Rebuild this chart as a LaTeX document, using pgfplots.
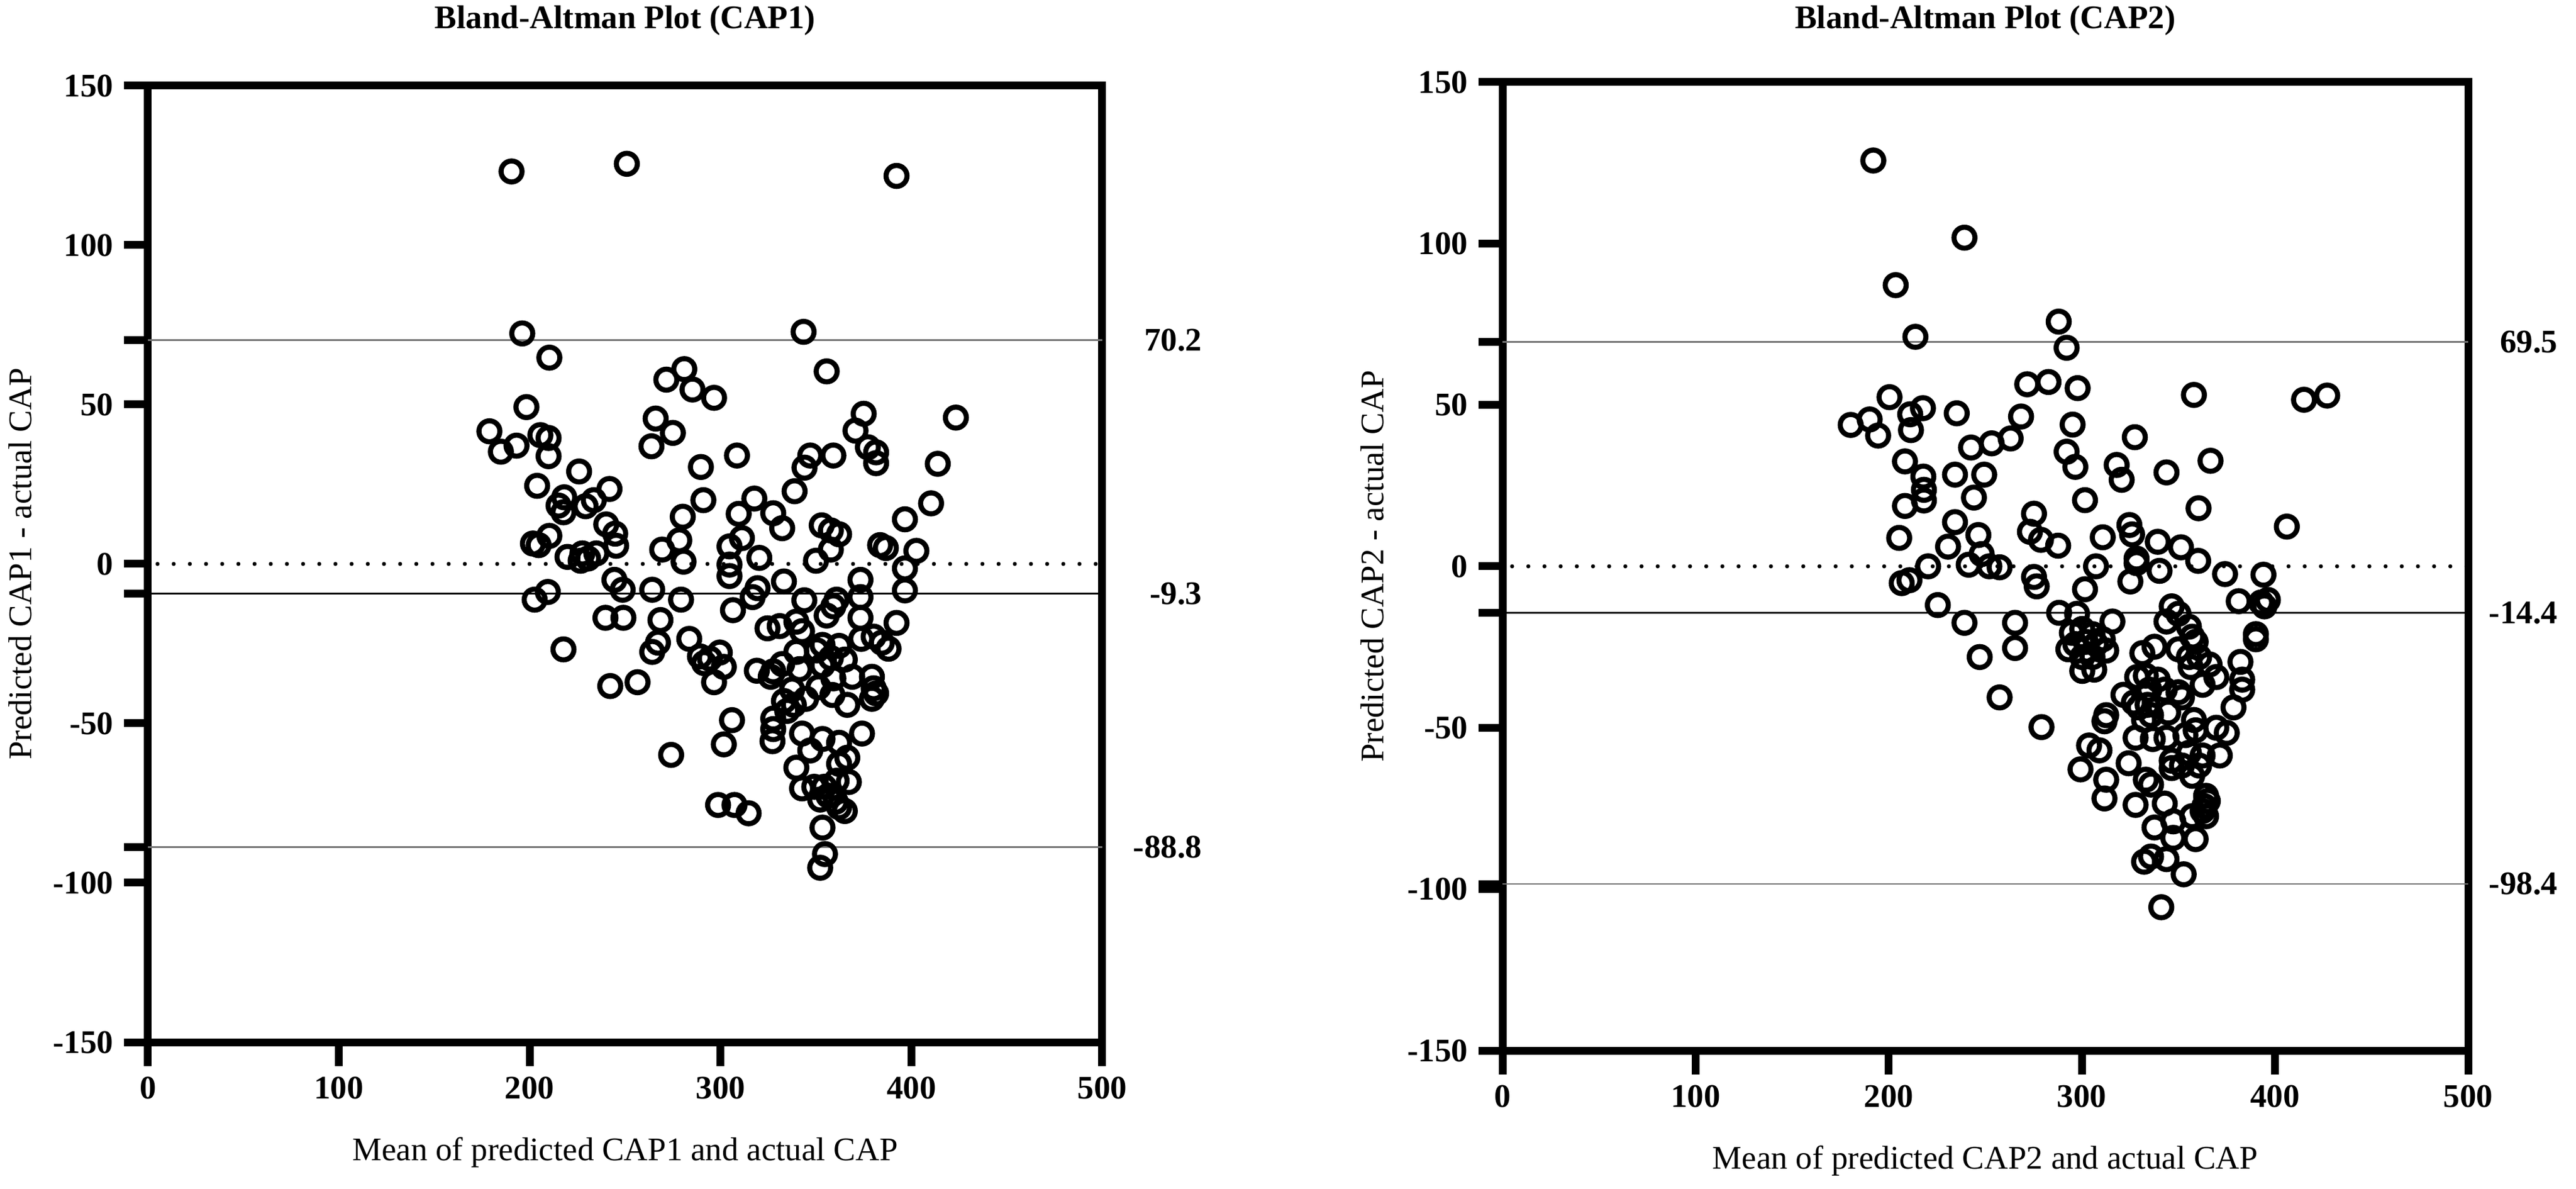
\documentclass[border=0pt]{standalone}
\usepackage{fontspec}
\setmainfont{Liberation Serif}
\usepackage{pgfplots}
\pgfplotsset{compat=1.18}
\pgfplotsset{
  bastyle/.style={
    scale only axis,
    xmin=0, xmax=500, ymin=-150, ymax=150,
    xtick={0,100,200,300,400,500}, xticklabels={0,100,200,300,400,500},
    ytick={-150,-100,-50,0,50,100,150}, yticklabels={-150,-100,-50,0,50,100,150},
    tick pos=left, tick align=outside, major tick length=8pt,
    tick style={black, line width=2.6pt},
    axis line style={line width=2.6pt, line cap=rect},
    ticklabel style={font=\fontsize{11}{13}\selectfont\bfseries},
    clip=false,
  },
  pts/.style={only marks, mark=o, mark size=3.5pt, black, mark options={line width=1.7pt}},
  loa/.style={black!55, line width=0.5pt},
  bias/.style={black, line width=0.75pt},
  zero/.style={black, line width=1.35pt, line cap=round, dash pattern=on 0pt off 5.4pt},
}
\begin{document}
\begin{tikzpicture}
\useasboundingbox (0,0) rectangle (860pt,396.6pt);
% ---------------- CAP1 ----------------
\begin{axis}[bastyle, at={(49.4pt,48.8pt)}, anchor=south west,
  width=318.6pt, height=319.2pt,
  extra y ticks={70.2,-9.3,-88.8}, extra y tick labels={}]
\addplot[loa] coordinates {(0,70.2) (500,70.2)};
\addplot[loa] coordinates {(0,-88.8) (500,-88.8)};
\addplot[bias] coordinates {(0,-9.3) (500,-9.3)};
\addplot[zero] coordinates {(5,0) (500,0)};
\addplot[pts] coordinates {
(190.5,123.1) (250.9,125.5) (392.2,121.7) (196.1,72.3) (343.5,72.8)
(210.3,64.7) (355.6,60.4) (281,61.1) (271.6,57.8) (285.3,54.7)
(296.6,52.1) (198.3,49.2) (375,47.1) (423.3,45.9) (266,45.6)
(178.9,41.6) (370.7,41.8) (275,41.1) (205.6,40.4) (209.9,39.5)
(184.9,35.2) (193.1,37.1) (263.8,36.9) (377.2,36.6) (381.5,35.0)
(209.9,33.8) (308.6,34.0) (347,34.0) (359.1,34.0) (381.5,31.6)
(413.8,31.4) (344,30.2) (289.7,30.4) (225.9,29.0) (338.8,22.8)
(241.8,23.5) (203.9,24.5) (218.1,20.9) (317.7,20.5) (233.6,20.0)
(291,20.0) (410.3,19.0) (215.1,18.3) (229.3,18.1) (217.7,16.2)
(327.6,15.9) (309.5,15.7) (280.2,14.8) (396.6,14.0) (240.1,12.4)
(332.3,11.2) (353,12.1) (357.8,10.5) (362.1,9.3) (244.8,9.5)
(210.3,8.8) (311.2,8.1) (278.4,7.4) (201.7,6.4) (204.7,5.9)
(383.6,5.9) (386.6,5.0) (304.7,5.5) (245.3,5.7) (357.8,4.5)
(269.4,4.5) (402.6,4.1) (234.9,3.3) (227.6,3.3) (219.8,2.2)
(230.6,1.7) (320.3,1.9) (350,1.0) (226.7,1.0) (280.6,0.7)
(304.7,-0.2) (396.6,-1.4) (304.7,-3.8) (244.4,-5.0) (333.2,-5.5)
(373.3,-5.0) (248.7,-8.1) (264.2,-8.1) (396.6,-8.3) (319.4,-7.6)
(209.5,-8.8) (202.6,-11.2) (316.8,-10.4) (373.3,-10.4) (279.3,-11.2)
(343.9,-11.4) (360.8,-11.2) (359.1,-13.3) (306.5,-14.5) (355.6,-16.2)
(249.1,-16.9) (239.7,-16.9) (373.3,-16.9) (268.5,-17.6) (392.2,-18.5)
(339.7,-18.1) (324.6,-20.2) (331,-19.5) (342.7,-21.1) (380.2,-22.8)
(373.7,-23.5) (283.6,-23.5) (267.2,-24.7) (384.5,-24.7) (388,-26.6)
(353.4,-25.4) (362.1,-25.7) (350.4,-27.1) (217.7,-26.8) (264.2,-27.6)
(339.7,-27.6) (299.6,-27.8) (289.2,-29) (294.4,-29.7) (291.4,-31.1)
(357.8,-29.5) (365.1,-30.0) (332.3,-31.4) (301.7,-32.3) (353.4,-31.8)
(319,-33.5) (327.6,-33.7) (341.4,-33.0) (326.3,-35.4) (369,-35.4)
(379.3,-35.4) (242.2,-38.3) (256.5,-37.1) (296.6,-37.1) (359.1,-35.9)
(351.3,-38.7) (337.5,-39.4) (380.2,-39) (381.5,-40.6) (358.6,-41.1)
(379.3,-42.3) (344.8,-42.3) (333.2,-43.0) (338.4,-44.2) (366.4,-44.2)
(334.9,-46.1) (306,-49.0) (327.6,-48.5) (327.6,-51.8) (374.1,-53.2)
(342.7,-53.2) (353.4,-54.9) (327.2,-55.6) (301.7,-56.6) (362.1,-56.1)
(347,-58.5) (366.4,-60.8) (274.1,-59.9) (362.1,-62.7) (339.7,-63.9)
(360.8,-68.0) (367.2,-68.4) (342.7,-70.4) (349.1,-69.9) (354.3,-69.9)
(356.5,-72.7) (352.2,-73.9) (362.1,-76.3) (365.1,-77.5) (360.3,-74.6)
(298.7,-75.6) (307.3,-75.6) (314.7,-78.2) (353.4,-82.7) (354.7,-91.0)
(352.2,-95.3)
};
\node[anchor=east, font=\fontsize{11}{13}\selectfont\bfseries, xshift=36.8pt] at (axis cs:500,70.2) {70.2};
\node[anchor=east, font=\fontsize{11}{13}\selectfont\bfseries, xshift=36.8pt] at (axis cs:500,-9.3) {-9.3};
\node[anchor=east, font=\fontsize{11}{13}\selectfont\bfseries, xshift=36.8pt] at (axis cs:500,-88.8) {-88.8};
\end{axis}
% ---------------- CAP2 ----------------
\begin{axis}[bastyle, at={(501.6pt,46pt)}, anchor=south west,
  width=322.4pt, height=323.2pt,
  extra y ticks={69.5,-14.4,-98.4}, extra y tick labels={}]
\addplot[loa] coordinates {(0,69.5) (500,69.5)};
\addplot[loa] coordinates {(0,-98.4) (500,-98.4)};
\addplot[bias] coordinates {(0,-14.4) (500,-14.4)};
\addplot[zero] coordinates {(5,0) (500,0)};
\addplot[pts] coordinates {
(192.0,125.7) (239.2,101.8) (203.6,87.1) (213.8,71.1) (288.0,75.8)
(292.1,67.7) (271.7,56.4) (282.7,57.1) (297.8,55.2) (358.0,53.1)
(415.0,51.6) (427.0,52.9) (200.4,52.4) (190.1,45.5) (180.3,43.8)
(194.5,40.5) (211.1,47.1) (217.7,49.0) (211.5,42.2) (235.2,47.4)
(268.5,46.4) (263.1,39.6) (253.3,38.1) (242.6,36.8) (295.2,43.9)
(327.4,40.0) (292.1,35.5) (296.6,30.8) (208.4,32.5) (217.9,27.8)
(234.3,28.4) (249.4,28.4) (318.0,31.4) (320.6,26.8) (343.8,29.1)
(366.6,32.7) (218.2,23.7) (218.2,20.4) (208.4,18.7) (244.1,21.3)
(301.6,20.5) (360.4,18.0) (234.3,13.7) (275.2,16.3) (273.1,10.7)
(278.8,8.2) (287.7,6.4) (246.4,9.7) (205.4,8.8) (230.7,6.1)
(310.8,9.0) (324.6,12.8) (326.0,9.9) (339.3,7.6) (351.3,5.9)
(360.2,1.7) (406.1,12.3) (328.3,2.4) (328.3,1.0) (248.1,3.8)
(241.4,0.5) (252.1,0) (257.4,-0.3) (220.4,0) (307.3,0)
(340.2,-1.4) (374.1,-2.4) (394.0,-2.6) (275.2,-3.3) (276.6,-6.2)
(210.7,-4.3) (206.7,-5.2) (325.1,-4.7) (301.6,-7.1)
(381.2,-10.8) (392.8,-11.2) (396.3,-10.4) (394.5,-12.4) (225.4,-12.0)
(239.2,-17.5) (265.4,-17.5) (265.4,-25.3) (247.1,-28.1) (257.4,-40.6)
(279.1,-49.8) (288.2,-14.4) (297.5,-14.7) (315.8,-17.1) (294.8,-20.6)
(300.2,-19.4) (305.5,-21.0) (296.6,-24.1) (302.0,-23.4) (307.3,-24.1)
(312.6,-26.1) (293.0,-25.7) (300.2,-28.1) (305.5,-28.1) (300.2,-32.4)
(306.4,-32.0) (310.8,-22.6) (346.5,-12.4) (350.0,-14.7) (343.8,-17.1)
(355.4,-18.7) (357.1,-21.8) (358.9,-23.4) (350.0,-25.7) (355.4,-28.1)
(360.7,-28.1) (366.1,-30.4) (369.6,-34.3) (362.5,-36.7) (356.3,-31.2)
(390.1,-21.0) (390.1,-22.6) (382.1,-29.6) (383.0,-35.1) (383.0,-38.2)
(378.5,-43.7) (337.6,-24.9) (331.3,-26.9) (328.6,-34.3) (333.1,-33.9)
(339.3,-35.1) (334.9,-38.2) (342.9,-38.2) (350.0,-39.0) (321.5,-39.8)
(326.9,-42.2) (329.5,-43.7) (334.0,-42.9) (335.8,-46.1) (344.7,-45.3)
(332.2,-47.6) (351.8,-40.6) (312.6,-46.1) (311.7,-48.0) (358.0,-47.6)
(358.9,-50.8) (369.6,-50.0) (375.0,-51.6) (353.6,-52.3) (327.8,-53.1)
(336.7,-53.5) (343.8,-53.1) (371.4,-58.6) (362.5,-58.6) (355.4,-57.8)
(303.7,-55.5) (309.1,-57.0) (299.3,-62.9) (324.2,-61.0) (346.5,-60.2)
(351.8,-61.7) (360.7,-61.7) (357.1,-64.9) (346.5,-62.5) (312.6,-66.1)
(333.1,-66.1) (335.8,-67.6) (311.7,-71.9) (327.8,-73.9) (342.9,-73.5)
(364.3,-71.1) (365.2,-72.7) (363.4,-74.3) (362.5,-75.8) (364.3,-77.4)
(357.1,-77.4) (347.3,-79.0) (337.6,-80.9) (347.3,-84.1) (358.9,-84.5)
(335.8,-89.9) (332.2,-91.5) (343.8,-90.7) (352.7,-95.4) (341.1,-105.6)
};
\node[anchor=east, font=\fontsize{11}{13}\selectfont\bfseries, xshift=33.4pt] at (axis cs:500,69.5) {69.5};
\node[anchor=east, font=\fontsize{11}{13}\selectfont\bfseries, xshift=33.4pt] at (axis cs:500,-14.4) {-14.4};
\node[anchor=east, font=\fontsize{11}{13}\selectfont\bfseries, xshift=33.4pt] at (axis cs:500,-98.4) {-98.4};
\end{axis}
% ---------------- titles and labels ----------------
\node[anchor=base, font=\fontsize{11}{13}\selectfont\bfseries] at (208.7pt,387pt) {Bland-Altman Plot (CAP1)};
\node[anchor=base, font=\fontsize{11}{13}\selectfont\bfseries] at (662.8pt,387pt) {Bland-Altman Plot (CAP2)};
\node[anchor=base, font=\fontsize{11}{13}\selectfont] at (208.7pt,9.2pt) {Mean of predicted CAP1 and actual CAP};
\node[anchor=base, font=\fontsize{11}{13}\selectfont] at (662.8pt,6.6pt) {Mean of predicted CAP2 and actual CAP};
\node[rotate=90, font=\fontsize{11}{13}\selectfont] at (6.8pt,208.4pt) {Predicted CAP1 - actual CAP};
\node[rotate=90, font=\fontsize{11}{13}\selectfont] at (458.2pt,207.6pt) {Predicted CAP2 - actual CAP};
\end{tikzpicture}
\end{document}
